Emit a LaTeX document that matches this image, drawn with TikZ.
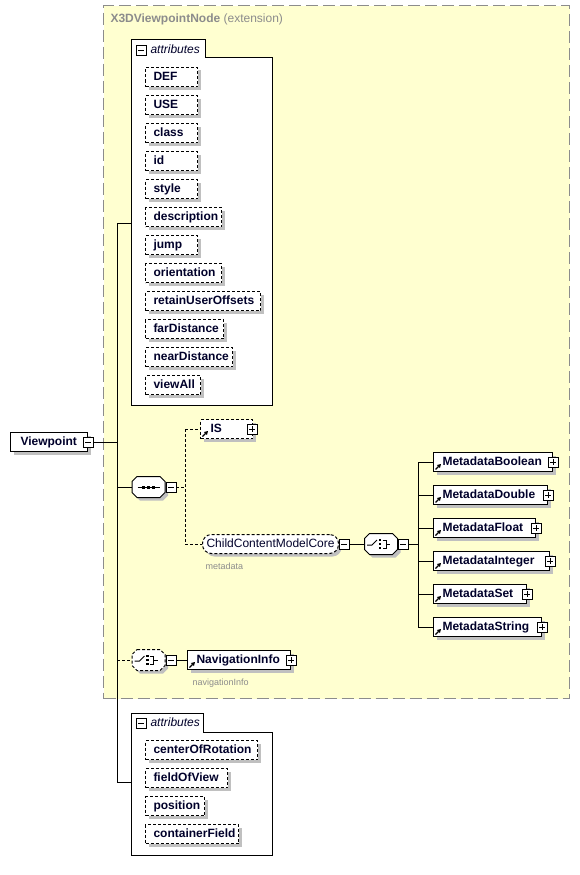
\documentclass[tikz,border=0pt]{standalone}
\usepackage{fontspec}
\setmainfont{Liberation Sans}
\usetikzlibrary{shadows,calc,arrows.meta}
\definecolor{extfill}{HTML}{FFFFD0}
\definecolor{extborder}{HTML}{8C8C8C}
\definecolor{shd}{HTML}{C0C0C0}
\definecolor{ink}{HTML}{00002A}
\definecolor{lbl}{HTML}{8C8C8C}
\newcommand\pd[1]{\hspace*{#1pt}}
\begin{document}
\begin{tikzpicture}[x=1pt,y=-1pt,line width=1pt,
  font=\fontsize{12}{14}\selectfont,
  box/.style={draw=black, fill=white, line width=1pt,
    general shadow={fill=shd, shadow xshift=3pt, shadow yshift=-3pt},
    minimum height=19pt, inner xsep=0pt, inner ysep=0pt, align=left,
    anchor=west, text=ink, font=\fontsize{12}{14}\selectfont\bfseries,
    text height=8.8pt, text depth=2.6pt},
  elem/.style={box, text width=#1},
  attr/.style={box, text width=#1, dash pattern=on 3pt off 2pt},
  dsh/.style={dash pattern=on 3pt off 2pt},
  comp/.style={minimum width=33pt, minimum height=21pt, inner sep=0pt},
  pm/.style={draw=black, fill=white, minimum size=10pt, inner sep=0pt, line width=0.9pt},
  minus/.style={pm, path picture={\draw[line width=0.9pt] ([xshift=2pt]path picture bounding box.west) -- ([xshift=-2pt]path picture bounding box.east);}},
  plus/.style={pm, path picture={\draw[line width=0.9pt] ([xshift=2pt]path picture bounding box.west) -- ([xshift=-2pt]path picture bounding box.east); \draw[line width=0.9pt] ([yshift=-2pt]path picture bounding box.north) -- ([yshift=2pt]path picture bounding box.south);}},
  grp/.style={draw=black, fill=white, line width=1pt},
  small/.style={anchor=west, inner sep=0pt, text=lbl, font=\fontsize{9}{11}\selectfont},
  tablbl/.style={anchor=west, inner sep=0pt, text=ink, font=\fontsize{12}{14}\selectfont\itshape},
  oct/.pic={
    \begin{scope}[shift={(3,3)}]
      \fill[shd] (-11.5,-10.5) -- (11.5,-10.5) -- (16.5,-5.5) -- (16.5,5.5) -- (11.5,10.5) -- (-11.5,10.5) -- (-16.5,5.5) -- (-16.5,-5.5) -- cycle;
    \end{scope}
    \draw[fill=white, line width=1pt, pic actions] (-11.5,-10.5) -- (11.5,-10.5) -- (16.5,-5.5) -- (16.5,5.5) -- (11.5,10.5) -- (-11.5,10.5) -- (-16.5,5.5) -- (-16.5,-5.5) -- cycle;
  },
  seqsym/.pic={
    \draw[line width=1pt] (-11,0) -- (11,0);
    \fill (-6.5,-1.5) rectangle (-3.5,1.5);
    \fill (-1.5,-1.5) rectangle (1.5,1.5);
    \fill (3.5,-1.5) rectangle (6.5,1.5);
  },
  chsym/.pic={
    \draw[line width=1pt] (-14,1) -- (-9,1) -- (-4,-4);
    \fill (-2.5,-5.2) rectangle (0,-2.8);
    \fill (-2.5,-1.2) rectangle (0,1.2);
    \fill (-2.5,2.8) rectangle (0,5.2);
    \draw[line width=1pt] (1.5,-4) -- (5,-4) -- (5,4) -- (1.5,4);
    \draw[line width=1pt] (5,0) -- (9,0);
  }
]
\newcommand\refarrow[1]{\draw[line width=1.3pt, -{Triangle[length=3.6pt,width=4pt]}] ([shift={(2.5pt,2.5pt)}]#1.south west) -- ++(5.5,-5.5);}
\path[use as bounding box] (0,0) rectangle (580,875);

% extension box
\node[draw=extborder, fill=extfill, line width=1.2pt, dash pattern=on 12pt off 5pt,
  minimum width=466pt, minimum height=693pt, anchor=north west, inner sep=0pt] (ext) at (103,5) {};
\node[anchor=west, inner sep=0pt, text=lbl] (title) at (110,19) {\textbf{X3DViewpointNode} (extension)};

% trunk
\coordinate (trunkT) at (117,223);
\coordinate (trunkB) at (117,782);
\draw (trunkT) -- (trunkB);

% first attribute group
\draw[grp] (131,40) -- (205,40) -- (205,58) -- (272,58) -- (272,405) -- (131,405) -- cycle;
\coordinate (g1w) at (131,223);
\node[minus] (g1m) at (141,50) {};
\node[tablbl] (g1l) at (150,49) {attributes};
\draw (trunkT) -- (g1w);

\node[attr=52pt] (aDEF) at (145,77) {\pd{8}DEF};
\node[attr=52pt] (aUSE) at (145,105) {\pd{8}USE};
\node[attr=52pt] (aclass) at (145,133) {\pd{8}class};
\node[attr=52pt] (aid) at (145,161) {\pd{8}id};
\node[attr=52pt] (astyle) at (145,189) {\pd{8}style};
\node[attr=76pt] (adesc) at (145,217) {\pd{8}description};
\node[attr=52pt] (ajump) at (145,245) {\pd{8}jump};
\node[attr=76pt] (aorient) at (145,273) {\pd{8}orientation};
\node[attr=115pt] (aretain) at (145,301) {\pd{8}retainUserOffsets};
\node[attr=78pt] (afar) at (145,329) {\pd{8}farDistance};
\node[attr=87pt] (anear) at (145,357) {\pd{8}nearDistance};
\node[attr=55pt] (aview) at (145,385) {\pd{8}viewAll};

% Viewpoint
\node[elem=77pt] (vp) at (10,442) {\pd{10}Viewpoint};
\node[minus] (vpm) at (88,442) {};
\draw (vpm.east) -- (vpm.east -| trunkT);

% sequence
\node[comp] (seq) at (148.5,487) {};
\pic at (seq) {oct};
\pic at (seq) {seqsym};
\node[minus] (seqm) at (171,487) {};
\draw (seq.west -| trunkT) -- (seq.west);
\coordinate (sj) at (185,487);
\draw[dsh] (seqm.east) -- (sj);

% IS
\node[elem=52pt, dash pattern=on 3pt off 2pt] (IS) at (200,429) {\pd{10}IS};
\node[plus] (ISp) at (252,429) {};
\refarrow{IS}

% ChildContentModelCore
\node[elem=136pt, dash pattern=on 3pt off 2pt, rounded corners=9pt, font=\fontsize{12}{14}\selectfont] (ccmc) at (202,544) {\pd{4}ChildContentModelCore};
\node[minus] (ccmcm) at (344,544) {};
\node[small] (lmeta) at (205,566) {metadata};

\draw[dsh] (IS.west -| sj) -- (ccmc.west -| sj);
\draw[dsh] (IS.west -| sj) -- (IS.west);
\draw[dsh] (ccmc.west -| sj) -- (ccmc.west);

% choice
\node[comp] (ch) at (381,544) {};
\draw (ccmcm.east) -- (ch.west);
\pic at (ch) {oct};
\pic at (ch) {chsym};
\node[minus] (chm) at (403,544) {};
\coordinate (cj) at (418,544);
\draw (chm.east) -- (cj);

\node[elem=119pt] (mb) at (433,462) {\pd{9}MetadataBoolean};
\node[elem=114pt] (md) at (433,495) {\pd{9}MetadataDouble};
\node[elem=102pt] (mf) at (433,528) {\pd{9}MetadataFloat};
\node[elem=116pt] (mi) at (433,561) {\pd{9}MetadataInteger};
\node[elem=93pt] (ms) at (433,594) {\pd{9}MetadataSet};
\node[elem=108pt] (mstr) at (433,627) {\pd{9}MetadataString};
\foreach \m in {mb,md,mf,mi,ms,mstr}{
  \node[plus] (\m p) at (\m.east) {};
  \refarrow{\m}
  \draw (cj |- \m.west) -- (\m.west);
}
\draw (cj |- mb.west) -- (cj |- mstr.west);

% navigation choice
\node[comp] (nc) at (148.5,660) {};
\draw[dsh] (nc.west -| trunkT) -- (nc.west);
\pic[dash pattern=on 3pt off 2pt] at (nc) {oct};
\pic at (nc) {chsym};
\node[minus] (ncm) at (171,660) {};
\node[elem=103pt] (nav) at (187,660) {\pd{9}NavigationInfo};
\node[plus] (navp) at (nav.east) {};
\refarrow{nav}
\draw (ncm.east) -- (nav.west);
\node[small] (lnav) at (192,683) {navigationInfo};

% second attribute group
\draw[grp] (131,713) -- (203,713) -- (203,732) -- (272,732) -- (272,855) -- (131,855) -- cycle;
\coordinate (g2w) at (131,782);
\node[minus] (g2m) at (141,723) {};
\node[tablbl] (g2l) at (150,722) {attributes};
\draw (trunkB) -- (g2w);

\node[attr=112pt] (acor) at (145,750) {\pd{8}centerOfRotation};
\node[attr=82pt] (afov) at (145,778) {\pd{8}fieldOfView};
\node[attr=59pt] (apos) at (145,806) {\pd{8}position};
\node[attr=93pt] (acf) at (145,834) {\pd{8}containerField};
\end{tikzpicture}
\end{document}
